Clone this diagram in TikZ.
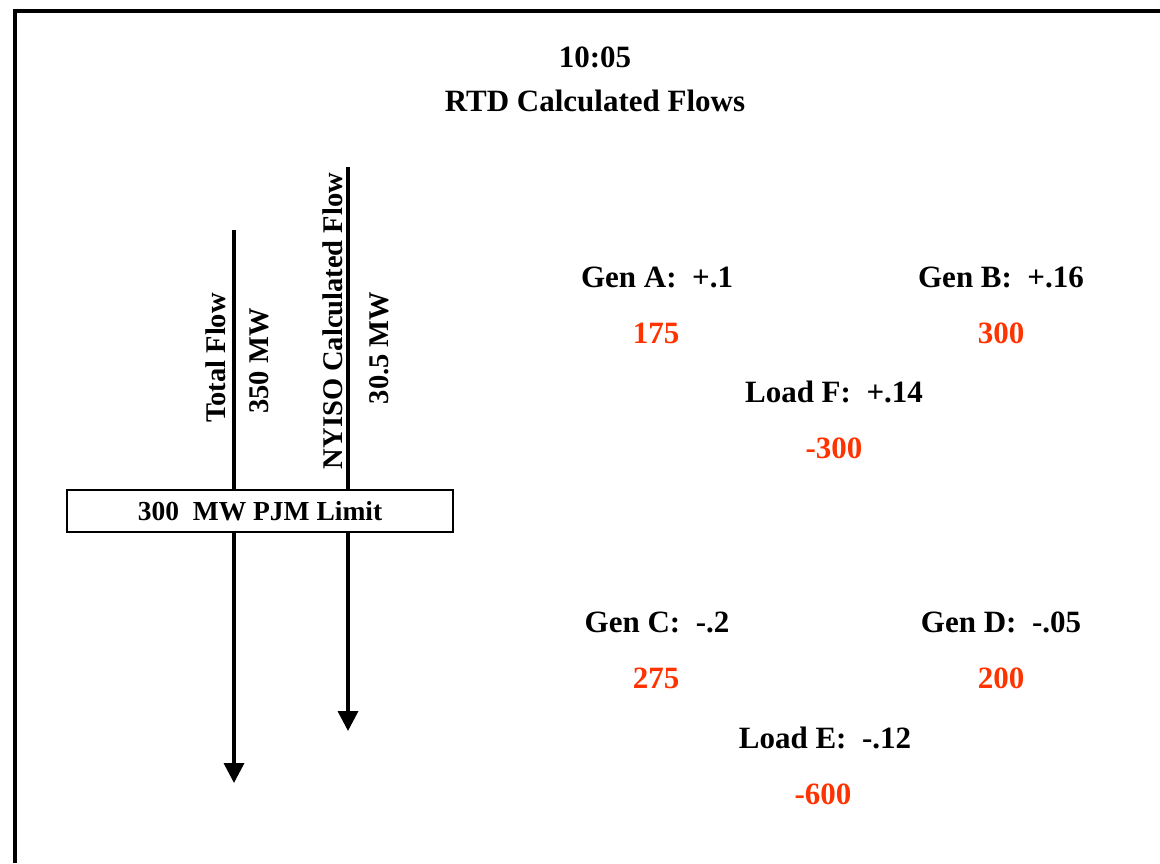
\documentclass[tikz,border=0pt]{standalone}
\usepackage{fontspec}
\setmainfont{Liberation Serif}
\usetikzlibrary{arrows.meta}
\definecolor{flowred}{RGB}{255,51,0}
\tikzset{
  lbl/.style={font=\fontsize{31}{36}\selectfont\bfseries, inner sep=0pt},
  val/.style={lbl, text=flowred},
  rlbl/.style={font=\fontsize{28.5}{34}\selectfont\bfseries, inner sep=0pt, rotate=90},
  flow/.style={line width=3.5pt, -{Triangle[width=20pt,length=20pt]}},
  limitbox/.style={draw, line width=1.6pt, fill=white, minimum width=386pt, minimum height=42pt, inner sep=0pt, font=\fontsize{27.5}{32}\selectfont\bfseries}
}
\begin{document}
\begin{tikzpicture}[x=1pt,y=-1pt]
\useasboundingbox (0,0) rectangle (1160,863);
% frame
\draw[line width=4pt] (15,863) -- (15,11) -- (1160,11);
% title
\node[lbl] (time) at (595,57) {10:05};
\node[lbl] (title) at (595,101) {RTD Calculated Flows};
% flows
\coordinate (tfTop) at (234,230);
\coordinate (tfEnd) at (234,783);
\coordinate (nyTop) at (348,167);
\coordinate (nyEnd) at (348,731);
\draw[flow] (tfTop) -- (tfEnd);
\draw[flow] (nyTop) -- (nyEnd);
\node[limitbox] (limit) at (260,511) {300\ \ MW PJM Limit};
\node[rlbl] (tf) at (216,358) {Total Flow};
\node[rlbl] (tfv) at (259,361) {350 MW};
\node[rlbl] (ny) at (333,321) {NYISO Calculated Flow};
\node[rlbl] (nyv) at (379,348) {30.5 MW};
% factors
\node[lbl] (ga) at (657,277) {Gen A:\ \ +.1};
\node[val] (gav) at (656,333) {175};
\node[lbl] (gb) at (1001,277) {Gen B:\ \ +.16};
\node[val] (gbv) at (1001,333) {300};
\node[lbl] (lf) at (834,392) {Load F:\ \ +.14};
\node[val] (lfv) at (834,448) {-300};
\node[lbl] (gc) at (657,622) {Gen C:\ \ -.2};
\node[val] (gcv) at (656,678) {275};
\node[lbl] (gd) at (1001,622) {Gen D:\ \ -.05};
\node[val] (gdv) at (1001,678) {200};
\node[lbl] (le) at (825,738) {Load E:\ \ -.12};
\node[val] (lev) at (823,794) {-600};
\end{tikzpicture}
\end{document}
